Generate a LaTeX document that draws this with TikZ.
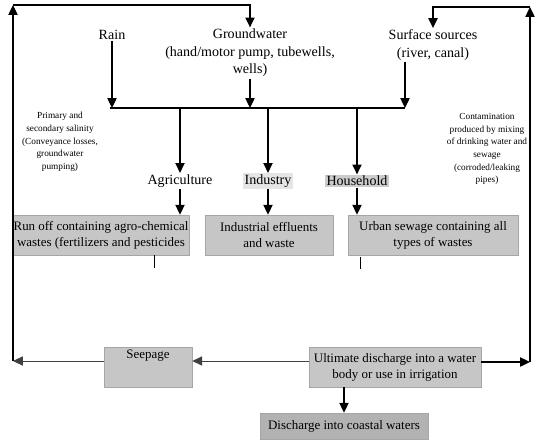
\documentclass[tikz,border=0pt]{standalone}
\usepackage{fontspec}
\setmainfont{Liberation Serif}
\usetikzlibrary{arrows.meta}

\begin{document}
\begin{tikzpicture}[
        x=0.025cm, y=-0.025cm,
        >={Triangle[width=6.5pt,length=7pt]},
        word/.style={
            align=center,
            inner sep=1pt,
            font=\fontsize{10}{12.5}\selectfont
        },
        note/.style={
            align=center,
            inner sep=0pt,
            font=\fontsize{6.6}{9}\selectfont
        },
        box/.style={
            rectangle,
            draw=gray!70,
            fill=gray!45,
            align=center,
            inner sep=1pt,
            minimum height=1cm,
            font=\fontsize{9.2}{11.5}\selectfont
        },
        arrow/.style={
            ->,
            line width=1pt,
            draw=black
        },
        thinarrow/.style={
            ->,
            line width=0.7pt,
            draw=black!75
        },
        stub/.style={
            line width=0.6pt
        }
    ]

    \useasboundingbox (0,0) rectangle (537,441);

    % sources
    \node[word] (rain)  at (112,35)  {Rain};
    \node[word] (gw)    at (250,53)  {Groundwater\\(hand/motor pump, tubewells,\\wells)};
    \node[word] (surf)  at (433,45)  {Surface sources\\(river, canal)};

    \coordinate (busL) at (110,108);
    \coordinate (busR) at (405,108);

    % uses
    \node[word] (agri)  at (180,181) {Agriculture};
    \node[word, fill=gray!20] (ind)   at (268,181) {Industry};
    \node[word, fill=gray!40] (house) at (357,181) {Household};

    % wastes
    \node[box, minimum width=4.3cm]  (runoff) at (101,235) {Run off containing agro-chemical\\wastes (fertilizers and pesticides};
    \node[box, minimum width=3.2cm]  (indw)   at (269,235) {Industrial effluents\\and waste};
    \node[box, minimum width=4.25cm] (urban)  at (433,235) {Urban sewage containing all\\types of wastes};

    \coordinate (runoffTick) at (154,255);
    \coordinate (urbanTick)  at (360,257);

    % side notes
    \node[note] (salin)  at (60,142)  {Primary and\\secondary salinity\\(Conveyance losses,\\groundwater\\pumping)};
    \node[note] (contam) at (487,149) {Contamination\\produced by mixing\\of drinking water and\\sewage\\(corroded/leaking\\pipes)};

    % discharge
    \node[box, minimum width=2.2cm, minimum height=0pt, text height=7.5pt, text depth=19pt] (seep) at (148,367) {Seepage};
    \node[box, minimum width=4.3cm]  (ult)   at (395,367) {Ultimate discharge into a water\\body or use in irrigation};
    \node[box, minimum width=4.2cm, minimum height=0.65cm, fill=gray!60] (coast) at (344,426) {Discharge into coastal waters};

    \coordinate (cBL) at (13,361);
    \coordinate (cTL) at (13,5);
    \coordinate (cBR) at (530,362);
    \coordinate (cTR) at (530,7);

    \draw[arrow] (rain) -- (rain |- busL);
    \draw[arrow] (gw) -- (gw |- busL);
    \draw[arrow] (surf.south -| busR) -- (busR);
    \draw[line width=1pt] (busL) -- (busR);

    \draw[arrow] (agri |- busL) -- (agri);
    \draw[arrow] (ind |- busL) -- (ind);
    \draw[arrow] (house |- busL) -- (house);

    \draw[arrow] (agri) -- (agri |- runoff.north);
    \draw[arrow] (ind) -- (ind |- indw.north);
    \draw[arrow] (house) -- (house |- urban.north);

    \draw[stub] (runoffTick) -- ++(0,13);
    \draw[stub] (urbanTick) -- ++(0,12);

    \draw[thinarrow] (ult.west |- cBL) -- (seep.east |- cBL);
    \draw[thinarrow] (seep.west |- cBL) -- (cBL);
    \draw[arrow] (cBL) -- (cTL);
    \draw[arrow] (cTL) -- (cTL -| gw) -- (gw.north);

    \draw[arrow] (ult.east |- cBR) -- (cBR);
    \draw[arrow] (cBR) -- (cTR);
    \draw[arrow] (cTR) -- (cTR -| surf) -- (surf.north);

    \draw[arrow] (coast.north |- ult.south) -- (coast.north);

\end{tikzpicture}
\end{document}
